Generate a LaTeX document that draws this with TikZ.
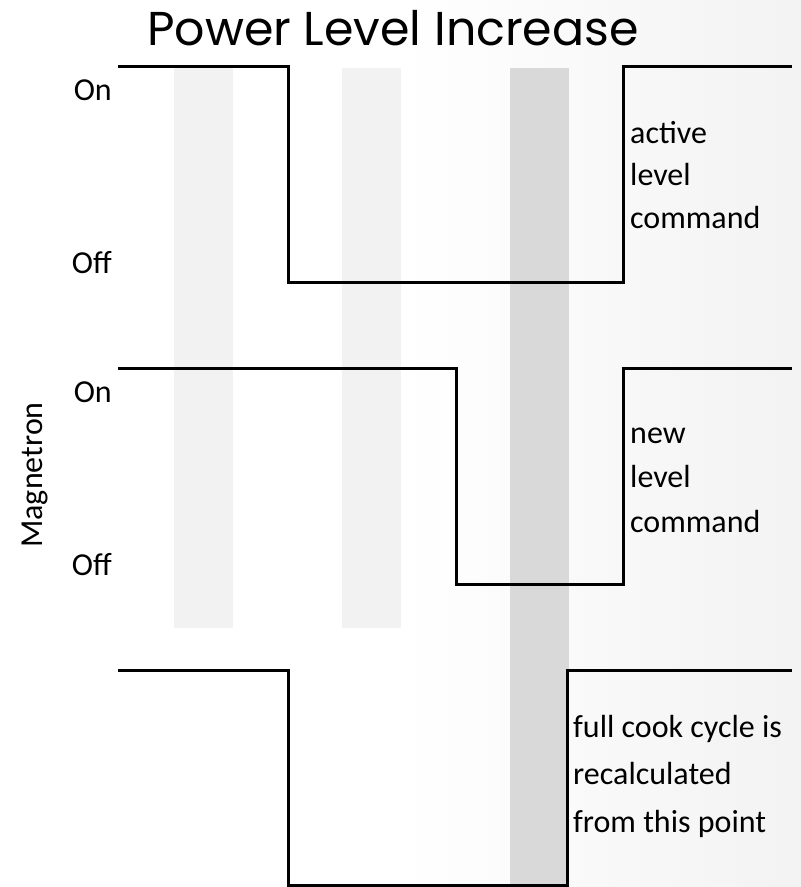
\documentclass[tikz,border=0pt]{standalone}
\usepackage{fontspec}
\setmainfont{Carlito}
\newfontfamily\titlefont{Poppins}
\usepackage{xcolor}
\usetikzlibrary{positioning}
\definecolor{ink}{HTML}{000000}
\definecolor{band}{HTML}{F2F2F2}
\definecolor{bandhot}{HTML}{D9D9D9}
\definecolor{edge}{HTML}{E6E6E6}
\pgfdeclarehorizontalshading{backdrop}{100bp}{color(0bp)=(white); color(50bp)=(white); color(100bp)=(edge)}
\tikzset{
  wave/.style={draw=ink, line width=3pt, line join=miter},
  bar/.style={fill=band, draw=none},
  barhot/.style={fill=bandhot, draw=none},
  lvl/.style={font=\fontsize{32}{38}\selectfont, inner sep=0pt, anchor=base east},
  note/.style={inner sep=0pt, align=left, anchor=base west},
  ttl/.style={font=\titlefont\fontsize{47.5}{54}\selectfont, inner sep=0pt, anchor=base},
}

\begin{document}
\begin{tikzpicture}[x=1pt,y=-1pt]
  \useasboundingbox (0,0) rectangle (801,887);
  \shade[shading=backdrop, shading angle=0] (0,0) rectangle (801,887);

  % grey time slots
  \fill[bar] (174,68) rectangle (233,628);
  \fill[bar] (342,68) rectangle (401,628);
  \fill[barhot] (510,68) rectangle (569,885);

  % active level
  \coordinate (a0) at (118,66);
  \coordinate (a1) at (288,66);
  \coordinate (a2) at (288,282);
  \coordinate (a3) at (623,282);
  \coordinate (a4) at (623,66);
  \coordinate (a5) at (792,66);
  \draw[wave] (a0) -- (a1) -- (a2) -- (a3) -- (a4) -- (a5);

  % new level
  \coordinate (n0) at (118,368);
  \coordinate (n1) at (456,368);
  \coordinate (n2) at (456,584);
  \coordinate (n3) at (623,584);
  \coordinate (n4) at (623,368);
  \coordinate (n5) at (792,368);
  \draw[wave] (n0) -- (n1) -- (n2) -- (n3) -- (n4) -- (n5);

  % cook cycle
  \coordinate (c0) at (118,670);
  \coordinate (c1) at (288,670);
  \coordinate (c2) at (288,885);
  \coordinate (c3) at (567,885);
  \coordinate (c4) at (567,670);
  \coordinate (c5) at (792,670);
  \draw[wave] (c0) -- (c1) -- (c2) -- (c3) -- (c4) -- (c5);

  \node[ttl] (title) at (393,45) {Power Level Increase};

  \foreach \y/\t [count=\i] in {100/On,273/Off,402/On,575/Off}{
    \node[lvl] (lvl\i) at (112,\y) {\t};
  }
  \node[font=\fontsize{32}{38}\selectfont, rotate=90, inner sep=0pt] (mag) at (35,475) {Magnetron};

  % anchor is the baseline of the last line
  \node[note, font=\fontsize{32}{42.5}\selectfont] (activecmd) at (630,228) {active\\level\\command};
  \node[note, font=\fontsize{32}{44.5}\selectfont] (newcmd) at (630,532) {new\\level\\command};
  \node[note, font=\fontsize{32}{47.5}\selectfont] (recalc) at (573,832) {full cook cycle is\\recalculated\\from this point};
\end{tikzpicture}
\end{document}
